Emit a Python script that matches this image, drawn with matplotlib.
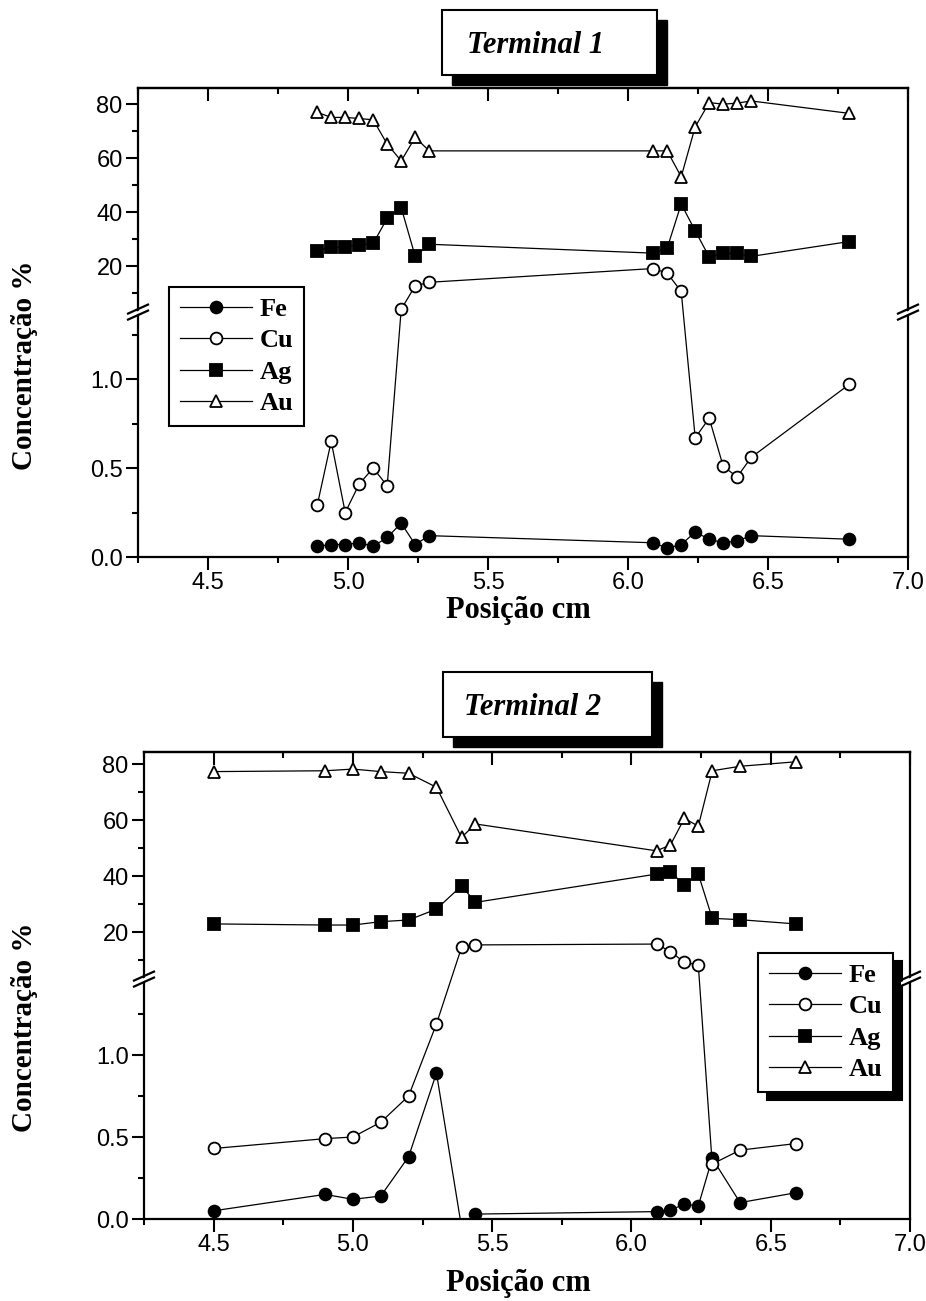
import numpy as np
import matplotlib
matplotlib.use("Agg")
import matplotlib.pyplot as plt
from matplotlib.patches import Rectangle, Polygon
from matplotlib.lines import Line2D
from matplotlib.transforms import Affine2D

# ---- data ----
# Terminal 1
pos1 = [4.89, 4.94, 4.99, 5.04, 5.09, 5.14, 5.19, 5.24, 5.29,
        6.09, 6.14, 6.19, 6.24, 6.29, 6.34, 6.39, 6.44, 6.79]
fe1 = [0.06, 0.07, 0.07, 0.08, 0.06, 0.11, 0.19, 0.07, 0.12,
       0.08, 0.05, 0.07, 0.14, 0.10, 0.08, 0.09, 0.12, 0.10]
cu1 = [0.29, 0.65, 0.25, 0.41, 0.50, 0.40, 4.0, 12.7, 14.0,
       19.1, 17.4, 10.6, 0.67, 0.78, 0.51, 0.45, 0.56, 0.97]
ag1 = [25.7, 26.9, 27.1, 27.8, 28.4, 37.7, 41.7, 23.6, 28.1,
       24.8, 26.7, 43.0, 33.1, 23.4, 24.7, 24.7, 23.6, 29.1]
au1 = [77.0, 75.1, 75.1, 74.7, 74.2, 65.2, 59.0, 67.7, 62.7,
       62.7, 62.7, 53.1, 71.6, 80.6, 80.0, 80.4, 81.2, 76.6]

# Terminal 2
pos2 = [4.50, 4.90, 5.00, 5.10, 5.20, 5.30, 5.39, 5.44,
        6.09, 6.14, 6.19, 6.24, 6.29, 6.39, 6.59]
fe2 = [0.05, 0.15, 0.12, 0.14, 0.38, 0.89, -0.05, 0.03,
       0.045, 0.055, 0.09, 0.08, 0.37, 0.10, 0.16]
cu2 = [0.43, 0.49, 0.50, 0.59, 0.75, 1.19, 14.5, 15.4,
       15.7, 13.0, 9.2, 8.2, 0.335, 0.42, 0.46]
ag2 = [22.9, 22.5, 22.5, 23.7, 24.3, 28.2, 36.5, 30.6,
       40.7, 41.5, 36.8, 40.7, 24.9, 24.4, 22.9]
au2 = [77.3, 77.6, 78.2, 77.3, 76.7, 71.7, 53.8, 58.6,
       49.0, 51.1, 60.6, 57.8, 77.6, 79.2, 80.8]

elements = ["Fe", "Cu", "Ag", "Au"]
xticks = [4.5, 5.0, 5.5, 6.0, 6.5, 7.0]
xticklabels = ["4.5", "5.0", "5.5", "6.0", "6.5", "7.0"]
yticks = [0.0, 0.5, 1.0, 20, 40, 60, 80]
yticklabels = ["0.0", "0.5", "1.0", "20", "40", "60", "80"]
yminor = [0.25, 0.75, 1.25, 10, 30, 50, 70]

W, H = 926, 1301
SERIF = "Liberation Serif"
SANS = "Liberation Sans"

styles = {
    "Fe": dict(marker="o", mfc="black", ms=8.5),
    "Cu": dict(marker="o", mfc="white", ms=8.5),
    "Ag": dict(marker="s", mfc="black", ms=8),
    "Au": dict(marker="^", mfc="white", ms=9),
}


def broken_scale(lo_top, lo_px, up_bot, up_px):
    """piecewise linear y scale: 0..lo_top at lo_px per unit, then a squeezed gap,
    then up_bot.. at up_px per unit"""
    kin = np.array([0.0, lo_top, up_bot, 100.0])
    b = lo_top * lo_px
    kout = np.array([0.0, b, b + 1.0, b + 1.0 + (100.0 - up_bot) * up_px])

    def make(a, c):
        s0 = (c[1] - c[0]) / (a[1] - a[0])
        s1 = (c[-1] - c[-2]) / (a[-1] - a[-2])

        def f(v):
            v = np.asarray(v, dtype=float)
            out = np.interp(v, a, c)
            out = np.where(v < a[0], c[0] + (v - a[0]) * s0, out)
            out = np.where(v > a[-1], c[-1] + (v - a[-1]) * s1, out)
            return out
        return f
    return make(kin, kout), make(kout, kin)


def px_rect(left, top, right, bottom):
    return [left / W, 1 - bottom / H, (right - left) / W, (bottom - top) / H]


def title_box(fig, left, top, right, bottom, text, tx, ty):
    sh = 10
    fig.add_artist(Rectangle((left + sh, H - bottom - sh), right - left, bottom - top,
                             transform=Affine2D(), facecolor="black",
                             edgecolor="black", zorder=5))
    fig.add_artist(Rectangle((left, H - bottom), right - left, bottom - top,
                             transform=Affine2D(), facecolor="white",
                             edgecolor="black", lw=1.5, zorder=6))
    fig.text(tx / W, 1 - ty / H, text, ha="center", va="baseline",
             fontsize=22, family=SERIF, weight="bold", style="italic", zorder=7)


def break_marks(fig, ax, frac):
    for side in (0, 1):
        bx, by = ax.transAxes.transform((side, frac))
        tr = Affine2D().translate(bx, by)
        fig.add_artist(Polygon([(-9, -5), (9, 3), (9, 6), (-9, -2)], closed=True,
                               transform=tr, facecolor="white", edgecolor="none",
                               zorder=8))
        for dy in (-6.5, -0.5):
            fig.add_artist(Line2D([-10, 10], [dy, dy + 9], transform=tr,
                                  color="black", lw=1.6, zorder=9))


def panel(fig, rect, pos, series, scale, ybreak, ytop):
    ax = fig.add_axes(rect)
    fwd, inv = scale
    ax.set_yscale("function", functions=(fwd, inv))
    for name, vals in zip(elements, series):
        st = styles[name]
        ax.plot(pos, vals, color="black", lw=0.9, marker=st["marker"],
                ms=st["ms"], mfc=st["mfc"], mec="black", mew=1.3, label=name)
    ax.set_xlim(4.25, 7.0)
    ax.set_ylim(0, ytop)
    ax.set_xticks(xticks)
    ax.set_xticklabels(xticklabels)
    ax.set_xticks(np.arange(4.25, 7.01, 0.25), minor=True)
    ax.set_yticks(yticks)
    ax.set_yticklabels(yticklabels)
    ax.set_yticks(yminor, minor=True)
    ax.tick_params(axis="both", which="major", direction="out", length=9,
                   width=1.5, labelsize=17, pad=2)
    ax.tick_params(axis="both", which="minor", direction="out", length=4.5,
                   width=1.5)
    for lab in ax.get_xticklabels() + ax.get_yticklabels():
        lab.set_family(SANS)
    for sp in ax.spines.values():
        sp.set_linewidth(1.6)
    top = ax.secondary_xaxis("top")
    top.set_xticks(xticks)
    top.set_xticks(np.arange(4.25, 7.01, 0.25), minor=True)
    top.tick_params(axis="x", which="major", direction="in", length=9,
                    width=1.5, labeltop=False)
    top.tick_params(axis="x", which="minor", direction="in", length=4.5,
                    width=1.5)
    top.spines["top"].set_linewidth(1.6)
    base = fwd(0.0)
    frac = float((fwd(ybreak) - base) / (fwd(ytop) - base))
    return ax, frac


fig = plt.figure(figsize=(W / 100, H / 100), dpi=100)

scale1 = broken_scale(1.371, 178, 2.96, 2.7)
scale2 = broken_scale(1.457, 164, 3.2, 2.8)

ax1, f1 = panel(fig, px_rect(138, 88, 908, 557), pos1, [fe1, cu1, ag1, au1],
                scale1, 1.371, 86.0)
ax2, f2 = panel(fig, px_rect(144, 752, 910, 1219), pos2, [fe2, cu2, ag2, au2],
                scale2, 1.457, 84.3)

break_marks(fig, ax1, f1)
break_marks(fig, ax2, f2)

leg_kw = dict(loc="upper left", bbox_transform=fig.transFigure, borderaxespad=0,
              numpoints=1, handlelength=2.75, handletextpad=0.3, labelspacing=0.3,
              borderpad=0.4, fancybox=False, framealpha=1, edgecolor="black",
              prop=dict(family=SERIF, weight="bold", size=19))
leg1 = ax1.legend(bbox_to_anchor=(169 / W, 1 - 287 / H), **leg_kw)
leg1.get_frame().set_linewidth(1.5)
leg2 = ax2.legend(bbox_to_anchor=(758 / W, 1 - 953 / H),
                  shadow={"ox": 6.5, "oy": -6, "facecolor": "black",
                          "edgecolor": "black", "alpha": 1}, **leg_kw)
leg2.get_frame().set_linewidth(1.5)

# y and x labels
for yc in (365, 1027):
    fig.text(25 / W, 1 - yc / H, "Concentração %", rotation=90, ha="center",
             va="center", fontsize=21, family=SERIF, weight="bold")
for yc in (611, 1284):
    fig.text(518 / W, 1 - yc / H, "Posição cm", ha="center", va="center",
             fontsize=22, family=SERIF, weight="bold")

title_box(fig, 442, 10, 657, 75, "Terminal 1", 536, 53)
title_box(fig, 443, 672, 652, 737, "Terminal 2", 533, 715)

fig.savefig("out.png", dpi=100)
